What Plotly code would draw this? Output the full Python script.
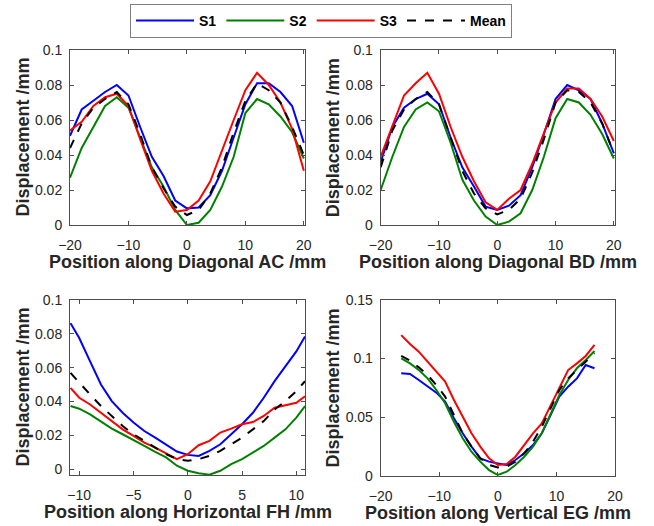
import plotly.graph_objects as go

# ---- Data: Diagonal AC (top-left)
x_ac = [-20, -18, -16, -14, -12, -10, -8, -6, -4, -2, 0, 2, 4, 6, 8, 10, 12, 14, 16, 18, 20]
ac_s1 = [0.051, 0.066, 0.071, 0.076, 0.080, 0.074, 0.056, 0.039, 0.028, 0.014, 0.0095, 0.010, 0.017, 0.031, 0.050, 0.069, 0.081, 0.081, 0.076, 0.068, 0.047]
ac_s2 = [0.027, 0.044, 0.056, 0.068, 0.073, 0.067, 0.050, 0.033, 0.022, 0.0086, 0.000, 0.0013, 0.0086, 0.022, 0.039, 0.064, 0.072, 0.069, 0.062, 0.053, 0.038]
ac_s3 = [0.054, 0.059, 0.068, 0.073, 0.075, 0.068, 0.049, 0.031, 0.018, 0.0076, 0.0086, 0.014, 0.025, 0.043, 0.060, 0.077, 0.087, 0.080, 0.070, 0.055, 0.031]
ac_mean = [0.044, 0.058, 0.067, 0.072, 0.076, 0.069, 0.052, 0.033, 0.021, 0.0105, 0.0057, 0.0086, 0.018, 0.033, 0.053, 0.071, 0.081, 0.077, 0.070, 0.056, 0.040]

# ---- Data: Diagonal BD (top-right)
x_bd = [-20, -18, -16, -14, -12, -10, -8, -6, -4, -2, 0, 2, 4, 6, 8, 10, 12, 14, 16, 18, 20]
bd_s1 = [0.036, 0.056, 0.067, 0.072, 0.075, 0.069, 0.050, 0.033, 0.022, 0.0105, 0.0086, 0.011, 0.017, 0.033, 0.052, 0.072, 0.080, 0.077, 0.072, 0.058, 0.041]
bd_s2 = [0.020, 0.039, 0.056, 0.066, 0.070, 0.065, 0.047, 0.026, 0.014, 0.0048, 0.000, 0.0019, 0.0067, 0.020, 0.039, 0.061, 0.072, 0.070, 0.063, 0.052, 0.038]
bd_s3 = [0.039, 0.056, 0.074, 0.081, 0.087, 0.075, 0.056, 0.039, 0.025, 0.013, 0.0086, 0.015, 0.020, 0.035, 0.052, 0.070, 0.078, 0.078, 0.072, 0.062, 0.048]
bd_mean = [0.033, 0.054, 0.066, 0.072, 0.076, 0.069, 0.050, 0.031, 0.018, 0.0095, 0.0061, 0.0086, 0.015, 0.030, 0.049, 0.070, 0.077, 0.076, 0.070, 0.058, 0.041]

# ---- Data: Horizontal FH (bottom-left)
x_fh = [-10.8, -10, -9, -8, -7, -6, -5, -4, -3, -2, -1, 0, 1, 2, 3, 4, 5, 6, 7, 8, 9, 10, 10.8]
fh_s1 = [0.0863, 0.0775, 0.0637, 0.050, 0.0402, 0.0333, 0.0275, 0.0225, 0.0186, 0.0147, 0.0104, 0.0084, 0.0078, 0.0108, 0.0147, 0.0206, 0.0265, 0.0333, 0.0422, 0.052, 0.0608, 0.0696, 0.0784]
fh_s2 = [0.0373, 0.0357, 0.0324, 0.0284, 0.0239, 0.0206, 0.0173, 0.0137, 0.0102, 0.0069, 0.002, -0.001, -0.0024, -0.0033, -0.001, 0.0029, 0.0059, 0.0098, 0.0137, 0.0186, 0.0235, 0.0304, 0.0373]
fh_s3 = [0.048, 0.0422, 0.0382, 0.0333, 0.0284, 0.0235, 0.0196, 0.0157, 0.0127, 0.0094, 0.0059, 0.0088, 0.0141, 0.0167, 0.0216, 0.0239, 0.0265, 0.0278, 0.0314, 0.0363, 0.0376, 0.0392, 0.0431]
fh_mean = [0.0569, 0.051, 0.0441, 0.0373, 0.0314, 0.0255, 0.0206, 0.0167, 0.0127, 0.0088, 0.0059, 0.0049, 0.0059, 0.0078, 0.0108, 0.0147, 0.0186, 0.0235, 0.0284, 0.0353, 0.0402, 0.0461, 0.052]

# ---- Data: Vertical EG (bottom-right)
x_eg = [-16.5, -15, -13.5, -12, -10.5, -9, -7.5, -6, -4.5, -3, -1.5, 0, 1.5, 3, 4.5, 6, 7.5, 9, 10.5, 12, 13.5, 15, 16.5]
eg_s1 = [0.0874, 0.0868, 0.0817, 0.076, 0.0709, 0.0632, 0.049, 0.0362, 0.0248, 0.0148, 0.012, 0.0105, 0.0091, 0.0134, 0.0191, 0.0262, 0.0362, 0.0518, 0.0675, 0.076, 0.0831, 0.0945, 0.0917]
eg_s2 = [0.1002, 0.0959, 0.0902, 0.0831, 0.0732, 0.0618, 0.0461, 0.0319, 0.0205, 0.012, 0.0048, 0.0006, 0.0034, 0.0091, 0.0162, 0.0248, 0.0362, 0.0532, 0.0689, 0.0817, 0.0917, 0.0988, 0.1065]
eg_s3 = [0.120, 0.1124, 0.1059, 0.0974, 0.0888, 0.0803, 0.0646, 0.0504, 0.0362, 0.0248, 0.0148, 0.0091, 0.010, 0.0162, 0.0262, 0.0362, 0.0447, 0.0603, 0.076, 0.0902, 0.0959, 0.1022, 0.1116]
eg_mean = [0.1022, 0.0982, 0.0925, 0.086, 0.0774, 0.0675, 0.0518, 0.0362, 0.0248, 0.0148, 0.0091, 0.0071, 0.0077, 0.012, 0.0191, 0.029, 0.0418, 0.0575, 0.0732, 0.0831, 0.0902, 0.0974, 0.1045]

series_names = ["S1", "S2", "S3", "Mean"]
series_colors = ["#0000FF", "#008000", "#FF0000", "#000000"]

x_titles = ["Position along Diagonal AC /mm", "Position along Diagonal BD /mm",
            "Position along Horizontal FH /mm", "Position along Vertical EG /mm"]
y_title = "Displacement /mm"

W, H = 654, 526

def px(x):
    return x / W

def py(y):
    return 1 - y / H

# panel boxes in pixels: (left, right, top, bottom)
boxes = [(70, 305, 50, 225), (380.7, 615, 50, 225), (70, 305, 300, 475), (380.7, 615, 300, 475.7)]

fig = go.Figure()

panels = [
    (x_ac, [ac_s1, ac_s2, ac_s3, ac_mean]),
    (x_bd, [bd_s1, bd_s2, bd_s3, bd_mean]),
    (x_fh, [fh_s1, fh_s2, fh_s3, fh_mean]),
    (x_eg, [eg_s1, eg_s2, eg_s3, eg_mean]),
]

for i, (xs, ys_list) in enumerate(panels):
    ax = "" if i == 0 else str(i + 1)
    for j, ys in enumerate(ys_list):
        fig.add_trace(go.Scatter(
            x=xs, y=ys, mode="lines", name=series_names[j],
            line=dict(color=series_colors[j], width=2, dash="dash" if j == 3 else "solid"),
            showlegend=(i == 0), legendrank=j,
            xaxis="x" + ax, yaxis="y" + ax,
        ))

x_ranges = [[-20, 20.2], [-20, 20.2], [-10.85, 10.8], [-20, 20]]
y_ranges = [[0, 0.1], [0, 0.1], [-0.0035, 0.1], [0, 0.15]]
x_ticks = [[-20, -10, 0, 10, 20], [-20, -10, 0, 10, 20], [-10, -5, 0, 5, 10], [-20, -10, 0, 10, 20]]
y_ticks = [[0, 0.02, 0.04, 0.06, 0.08, 0.1], [0, 0.02, 0.04, 0.06, 0.08, 0.1],
           [0, 0.02, 0.04, 0.06, 0.08, 0.1], [0, 0.05, 0.1, 0.15]]
y_ticktext = [["0", "0.02", "0.04", "0.06", "0.08", "0.1"]] * 3 + [["0", "0.05", "0.1", "0.15"]]

tick_font = dict(family="Liberation Sans, Arial, sans-serif", size=14, color="#262626")
title_font = dict(family="Liberation Sans, Arial, sans-serif", size=18, color="#262626", weight="bold")

layout = dict(
    template="none",
    width=W, height=H, autosize=False,
    margin=dict(l=0, r=0, t=0, b=0, pad=0, autoexpand=False),
    paper_bgcolor="white", plot_bgcolor="white",
    showlegend=True,
    legend=dict(
        orientation="h", x=px(321), xanchor="center", y=py(4), yanchor="top",
        bordercolor="#7f7f7f", borderwidth=1, bgcolor="white",
        font=dict(family="Liberation Sans, Arial, sans-serif", size=14, color="#000000", weight="bold"),
        itemwidth=58, tracegroupgap=0, traceorder="normal",
    ),
)

annotations = []
for i, (l, r, t, b) in enumerate(boxes):
    ax = "" if i == 0 else str(i + 1)
    layout["xaxis" + ax] = dict(
        domain=[px(l), px(r)], range=x_ranges[i], anchor="y" + ax, automargin=False,
        tickvals=x_ticks[i], ticks="inside", ticklen=4, tickcolor="#4d4d4d",
        showline=True, linecolor="#4d4d4d", linewidth=1, mirror="ticks",
        showgrid=False, zeroline=False, tickfont=tick_font, ticklabelstandoff=7,
    )
    layout["yaxis" + ax] = dict(
        domain=[py(b), py(t)], range=y_ranges[i], anchor="x" + ax, automargin=False,
        tickvals=y_ticks[i], ticktext=y_ticktext[i], ticks="inside", ticklen=4, tickcolor="#4d4d4d",
        showline=True, linecolor="#4d4d4d", linewidth=1, mirror="ticks",
        showgrid=False, zeroline=False, tickfont=tick_font, ticklabelstandoff=4,
    )
    annotations.append(dict(
        text=x_titles[i], xref="paper", yref="paper",
        x=px((l + r) / 2), y=py(b + 37), xanchor="center", yanchor="middle",
        showarrow=False, font=title_font,
    ))
    annotations.append(dict(
        text=y_title, xref="paper", yref="paper", textangle=-90,
        x=px(l - 48), y=py((t + b) / 2), xanchor="center", yanchor="middle",
        showarrow=False, font=title_font,
    ))

layout["annotations"] = annotations
fig.update_layout(**layout)

fig.write_html("out.html", config={"displayModeBar": False},
               post_script="document.body.style.margin='0';document.body.style.overflow='hidden';")
